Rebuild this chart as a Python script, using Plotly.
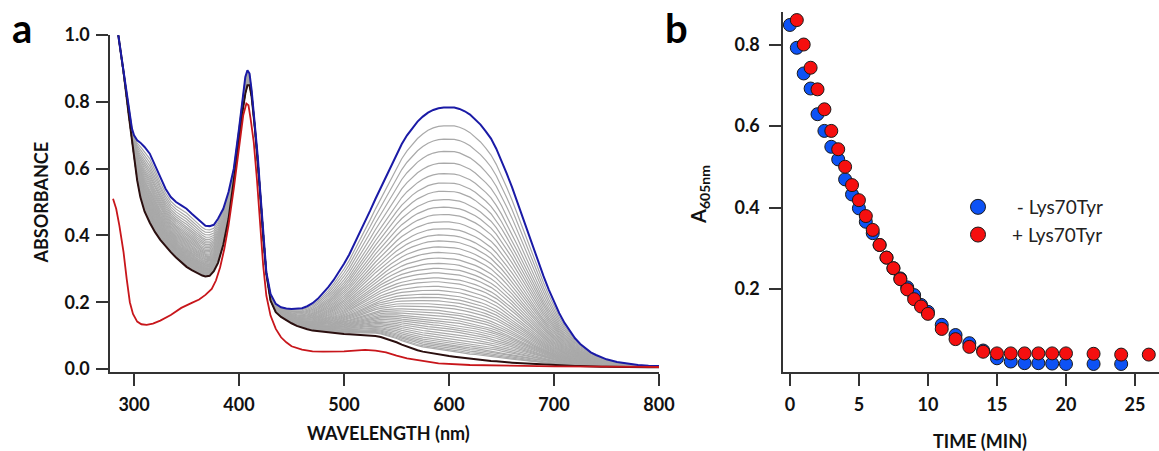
import plotly.graph_objects as go

# ---------------- Panel a: spectra ----------------
WAVELENGTH = [285, 290, 295, 298, 300, 303, 306, 310, 315, 320, 325, 330, 335, 340, 345, 350, 355, 360, 365, 368,
              372, 376, 380, 385, 390, 395, 400, 403, 406, 408, 410, 412, 415, 418, 420, 423, 426, 430, 435, 440,
              445, 450, 455, 460, 465, 470, 475, 480, 485, 490, 495, 500, 505, 510, 515, 520, 525, 530, 535, 540,
              545, 550, 555, 560, 565, 570, 575, 580, 585, 590, 595, 600, 605, 610, 615, 620, 625, 630, 635, 640,
              645, 650, 655, 660, 665, 670, 675, 680, 685, 690, 695, 700, 705, 710, 715, 720, 725, 730, 735, 740,
              745, 750, 760, 770, 780, 790, 800]

ABS_START = [1.00, 0.89, 0.78, 0.72, 0.70, 0.685, 0.678, 0.665, 0.645, 0.61, 0.572, 0.54, 0.515, 0.50, 0.49, 0.48,
             0.465, 0.45, 0.435, 0.429, 0.428, 0.432, 0.45, 0.48, 0.53, 0.60, 0.72, 0.80, 0.875, 0.895, 0.885,
             0.835, 0.74, 0.63, 0.54, 0.40, 0.29, 0.225, 0.195, 0.185, 0.181, 0.180, 0.180, 0.182, 0.188, 0.197,
             0.210, 0.227, 0.245, 0.266, 0.290, 0.315, 0.343, 0.375, 0.408, 0.440, 0.475, 0.510, 0.543, 0.577,
             0.610, 0.643, 0.674, 0.700, 0.722, 0.741, 0.756, 0.768, 0.776, 0.781, 0.783, 0.784, 0.783, 0.779,
             0.772, 0.762, 0.748, 0.732, 0.712, 0.690, 0.660, 0.625, 0.585, 0.545, 0.500, 0.455, 0.410, 0.365,
             0.320, 0.278, 0.238, 0.200, 0.167, 0.138, 0.113, 0.092, 0.075, 0.061, 0.050, 0.042, 0.035, 0.029,
             0.021, 0.016, 0.012, 0.010, 0.009]

ABS_END = [1.00, 0.89, 0.76, 0.68, 0.635, 0.565, 0.515, 0.472, 0.438, 0.410, 0.387, 0.367, 0.350, 0.334, 0.319,
           0.306, 0.296, 0.287, 0.280, 0.277, 0.279, 0.293, 0.318, 0.372, 0.450, 0.565, 0.695, 0.765, 0.825, 0.850,
           0.850, 0.815, 0.725, 0.615, 0.530, 0.395, 0.285, 0.205, 0.170, 0.156, 0.146, 0.137, 0.129, 0.123, 0.119,
           0.115, 0.113, 0.111, 0.109, 0.108, 0.106, 0.105, 0.104, 0.103, 0.102, 0.102, 0.101, 0.099, 0.096, 0.091,
           0.086, 0.080, 0.073, 0.067, 0.061, 0.056, 0.052, 0.049, 0.046, 0.044, 0.041, 0.039, 0.037, 0.035, 0.032,
           0.030, 0.029, 0.027, 0.026, 0.024, 0.023, 0.021, 0.020, 0.019, 0.018, 0.017, 0.016, 0.015, 0.014, 0.013,
           0.012, 0.011, 0.011, 0.010, 0.010, 0.009, 0.009, 0.008, 0.008, 0.008, 0.007, 0.007, 0.006, 0.006, 0.005,
           0.005, 0.005]

WL_RED = [280, 283, 286, 290, 293, 296, 299, 303, 307, 312, 318, 325, 335, 345, 355, 362, 368, 374, 378, 382, 386,
          390, 395, 400, 404, 407, 409, 411, 414, 417, 420, 423, 426, 430, 435, 440, 445, 450, 460, 470, 480, 490,
          500, 510, 520, 530, 540, 550, 560, 575, 590, 620, 660, 700, 750, 800]
ABS_RED = [0.51, 0.48, 0.43, 0.35, 0.27, 0.20, 0.165, 0.142, 0.134, 0.132, 0.136, 0.145, 0.162, 0.183, 0.198, 0.208,
           0.222, 0.240, 0.265, 0.305, 0.360, 0.430, 0.540, 0.660, 0.760, 0.795, 0.790, 0.750, 0.680, 0.570, 0.430,
           0.310, 0.220, 0.160, 0.120, 0.095, 0.080, 0.068, 0.058, 0.053, 0.052, 0.052, 0.053, 0.055, 0.057, 0.055,
           0.050, 0.040, 0.032, 0.024, 0.017, 0.012, 0.009, 0.008, 0.007, 0.006]

# absorbance at 605 nm of each intermediate (grey) spectrum
GRAY_A605 = [0.728, 0.688, 0.651, 0.616, 0.584, 0.556, 0.531, 0.506, 0.483, 0.461, 0.439, 0.418, 0.399, 0.381,
             0.363, 0.346, 0.329, 0.313, 0.298, 0.284, 0.269, 0.257, 0.243, 0.231, 0.219, 0.209, 0.199, 0.189,
             0.180, 0.170, 0.162, 0.154, 0.146, 0.139, 0.132, 0.125, 0.118, 0.111, 0.104, 0.097, 0.090, 0.083,
             0.077, 0.071, 0.066, 0.061, 0.056, 0.052]

# ---------------- Panel b: kinetics ----------------
TIME_MINUS = [0, 0.5, 1, 1.5, 2, 2.5, 3, 3.5, 4, 4.5, 5, 5.5, 6, 6.5, 7, 7.5, 8, 8.5, 9, 9.5, 10,
              11, 12, 13, 14, 15, 16, 17, 18, 19, 20, 22, 24]
A605_MINUS = [0.848, 0.792, 0.729, 0.692, 0.629, 0.588, 0.549, 0.518, 0.469, 0.432, 0.398, 0.365, 0.337, 0.308,
              0.277, 0.251, 0.226, 0.204, 0.185, 0.161, 0.144, 0.112, 0.087, 0.067, 0.049, 0.030, 0.022, 0.018,
              0.018, 0.017, 0.016, 0.016, 0.016]
TIME_PLUS = [0.5, 1, 1.5, 2, 2.5, 3, 3.5, 4, 4.5, 5, 5.5, 6, 6.5, 7, 7.5, 8, 8.5, 9, 9.5, 10,
             11, 12, 13, 14, 15, 16, 17, 18, 19, 20, 22, 24, 26]
A605_PLUS = [0.860, 0.800, 0.743, 0.690, 0.641, 0.588, 0.543, 0.500, 0.455, 0.418, 0.379, 0.345, 0.308, 0.277,
             0.251, 0.224, 0.199, 0.175, 0.157, 0.139, 0.102, 0.077, 0.058, 0.046, 0.042, 0.042, 0.042, 0.042,
             0.042, 0.042, 0.041, 0.039, 0.039]

LEGEND_NAMES = ["\u00a0- Lys70Tyr", "+ Lys70Tyr"]

W, H = 1159, 451
FONT = "Lato"
AX = "#333333"
BLUE_PT, RED_PT = "#0d52f5", "#f50f0f"


def fx(p):
    return p / W


def fy(p):
    return 1 - p / H


fig = go.Figure()

i605 = WAVELENGTH.index(605)
for a in GRAY_A605:
    f = (a - ABS_END[i605]) / (ABS_START[i605] - ABS_END[i605])
    ys = [e + f * (s - e) for s, e in zip(ABS_START, ABS_END)]
    fig.add_trace(go.Scatter(x=WAVELENGTH, y=ys, mode="lines", line=dict(color="#a9a9a9", width=1.2),
                             showlegend=False, hoverinfo="skip", xaxis="x", yaxis="y"))

fig.add_trace(go.Scatter(x=WAVELENGTH, y=ABS_END, mode="lines", line=dict(color="#2b0f0f", width=2),
                         showlegend=False, xaxis="x", yaxis="y"))
fig.add_trace(go.Scatter(x=WAVELENGTH, y=ABS_START, mode="lines", line=dict(color="#1a1aa6", width=2),
                         showlegend=False, xaxis="x", yaxis="y"))
fig.add_trace(go.Scatter(x=WL_RED, y=ABS_RED, mode="lines", line=dict(color="#c8161b", width=1.8),
                         showlegend=False, xaxis="x", yaxis="y"))

fig.add_trace(go.Scatter(x=TIME_MINUS, y=A605_MINUS, mode="markers", showlegend=False,
                         marker=dict(size=13, color=BLUE_PT, line=dict(color="#1a1a1a", width=1)),
                         cliponaxis=False, xaxis="x2", yaxis="y2"))
fig.add_trace(go.Scatter(x=TIME_PLUS, y=A605_PLUS, mode="markers", showlegend=False,
                         marker=dict(size=13, color=RED_PT, line=dict(color="#1a1a1a", width=1)),
                         cliponaxis=False, xaxis="x2", yaxis="y2"))
# legend entries (larger symbols than the data points, as in the original)
for name, col in zip(LEGEND_NAMES, [BLUE_PT, RED_PT]):
    fig.add_trace(go.Scatter(x=[None], y=[None], mode="markers", name=name,
                             marker=dict(size=15, color=col, line=dict(color="#1a1a1a", width=1)),
                             xaxis="x2", yaxis="y2"))

tickfont = dict(family=FONT, size=18, color="#111111", weight="bold")
common = dict(showline=True, linecolor=AX, linewidth=1.5, ticks="outside", ticklen=12, tickwidth=1.5,
              tickcolor=AX, showgrid=False, zeroline=False, tickfont=tickfont, mirror=False, automargin=False)

fig.update_layout(
    template="none",
    width=W, height=H, margin=dict(l=0, r=0, t=0, b=0, pad=0, autoexpand=False),
    paper_bgcolor="white", plot_bgcolor="white",
    xaxis=dict(domain=[fx(110), fx(659)], range=[277.1, 800], anchor="y",
               tickvals=[300, 400, 500, 600, 700, 800], ticklabelstandoff=4, **common),
    yaxis=dict(domain=[fy(372), fy(35)], range=[-0.009, 1.0005], anchor="x",
               tickvals=[0, 0.2, 0.4, 0.6, 0.8, 1.0], tickformat=".1f", ticklabelstandoff=3, **common),
    xaxis2=dict(domain=[fx(783), 1.0], range=[-0.5, 26.74], anchor="y2",
                tickvals=[0, 5, 10, 15, 20, 25], ticklabelstandoff=4, **common),
    yaxis2=dict(domain=[fy(372), fy(12)], range=[-0.0037, 0.8798], anchor="x2",
                tickvals=[0.2, 0.4, 0.6, 0.8], tickformat=".1f", ticklabelstandoff=6, **common),
    showlegend=True,
    legend=dict(x=fx(944), y=fy(188), xanchor="left", yanchor="top", bgcolor="rgba(0,0,0,0)",
                borderwidth=0, font=dict(family=FONT, size=19, color="#222222"), itemwidth=58),
)

title_font = dict(family=FONT, size=18, color="#111111", weight="bold")
ann = [
    dict(text="a", x=fx(22), y=fy(27.5), font=dict(family=FONT, size=40, color="#000", weight="bold")),
    dict(text="b", x=fx(676), y=fy(28), font=dict(family=FONT, size=40, color="#000", weight="bold")),
    dict(text="ABSORBANCE", x=fx(40.5), y=fy(203), textangle=-90, font=title_font),
    dict(text="WAVELENGTH (nm)", x=fx(388), y=fy(433), font=title_font),
    dict(text="TIME (MIN)", x=fx(980), y=fy(440.5), font=title_font),
    dict(text="A<sub>605nm</sub>", x=fx(699), y=fy(195), textangle=-90,
         font=dict(family=FONT, size=20, color="#111111", weight="bold")),
]
for a in ann:
    fig.add_annotation(xref="paper", yref="paper", showarrow=False, xanchor="center", yanchor="middle", **a)

fig.write_html("out.html")
